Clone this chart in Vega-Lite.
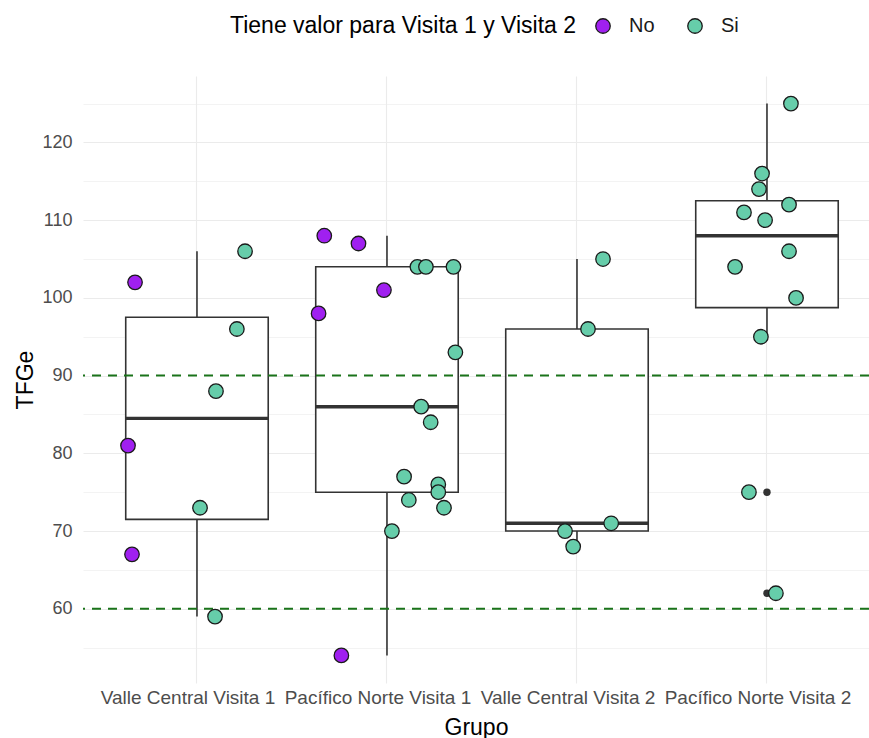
{
  "$schema": "https://vega.github.io/schema/vega-lite/v6.json",
  "autosize": {"type": "none"},
  "padding": {"left": 83, "top": 76, "right": 0, "bottom": 55},
  "width": 786,
  "height": 607,
  "background": "white",
  "config": {
    "view": {"stroke": null},
    "font": "Liberation Sans",
    "axis": {"labelFont": "Liberation Sans", "titleFont": "Liberation Sans"},
    "legend": {"labelFont": "Liberation Sans", "titleFont": "Liberation Sans"}
  },
  "datasets": {
    "puntos": [
      {"grupo": "Valle Central Visita 1", "tfge": 102, "valor": "No", "jitter": -0.326},
      {"grupo": "Valle Central Visita 1", "tfge": 106, "valor": "Si", "jitter": 0.253},
      {"grupo": "Valle Central Visita 1", "tfge": 96, "valor": "Si", "jitter": 0.21},
      {"grupo": "Valle Central Visita 1", "tfge": 88, "valor": "Si", "jitter": 0.1},
      {"grupo": "Valle Central Visita 1", "tfge": 81, "valor": "No", "jitter": -0.363},
      {"grupo": "Valle Central Visita 1", "tfge": 73, "valor": "Si", "jitter": 0.016},
      {"grupo": "Valle Central Visita 1", "tfge": 67, "valor": "No", "jitter": -0.342},
      {"grupo": "Valle Central Visita 1", "tfge": 59, "valor": "Si", "jitter": 0.095},
      {"grupo": "Pacífico Norte Visita 1", "tfge": 108, "valor": "No", "jitter": -0.33},
      {"grupo": "Pacífico Norte Visita 1", "tfge": 107, "valor": "No", "jitter": -0.15},
      {"grupo": "Pacífico Norte Visita 1", "tfge": 104, "valor": "Si", "jitter": 0.16},
      {"grupo": "Pacífico Norte Visita 1", "tfge": 104, "valor": "Si", "jitter": 0.205},
      {"grupo": "Pacífico Norte Visita 1", "tfge": 104, "valor": "Si", "jitter": 0.35},
      {"grupo": "Pacífico Norte Visita 1", "tfge": 101, "valor": "No", "jitter": -0.016},
      {"grupo": "Pacífico Norte Visita 1", "tfge": 98, "valor": "No", "jitter": -0.36},
      {"grupo": "Pacífico Norte Visita 1", "tfge": 93, "valor": "Si", "jitter": 0.36},
      {"grupo": "Pacífico Norte Visita 1", "tfge": 86, "valor": "Si", "jitter": 0.18},
      {"grupo": "Pacífico Norte Visita 1", "tfge": 84, "valor": "Si", "jitter": 0.23},
      {"grupo": "Pacífico Norte Visita 1", "tfge": 77, "valor": "Si", "jitter": 0.09},
      {"grupo": "Pacífico Norte Visita 1", "tfge": 76, "valor": "Si", "jitter": 0.27},
      {"grupo": "Pacífico Norte Visita 1", "tfge": 75, "valor": "Si", "jitter": 0.27},
      {"grupo": "Pacífico Norte Visita 1", "tfge": 74, "valor": "Si", "jitter": 0.115},
      {"grupo": "Pacífico Norte Visita 1", "tfge": 73, "valor": "Si", "jitter": 0.3},
      {"grupo": "Pacífico Norte Visita 1", "tfge": 70, "valor": "Si", "jitter": 0.026},
      {"grupo": "Pacífico Norte Visita 1", "tfge": 54, "valor": "No", "jitter": -0.24},
      {"grupo": "Valle Central Visita 2", "tfge": 105, "valor": "Si", "jitter": 0.137},
      {"grupo": "Valle Central Visita 2", "tfge": 96, "valor": "Si", "jitter": 0.058},
      {"grupo": "Valle Central Visita 2", "tfge": 71, "valor": "Si", "jitter": 0.18},
      {"grupo": "Valle Central Visita 2", "tfge": 70, "valor": "Si", "jitter": -0.063},
      {"grupo": "Valle Central Visita 2", "tfge": 68, "valor": "Si", "jitter": -0.02},
      {"grupo": "Pacífico Norte Visita 2", "tfge": 125, "valor": "Si", "jitter": 0.126},
      {"grupo": "Pacífico Norte Visita 2", "tfge": 116, "valor": "Si", "jitter": -0.026},
      {"grupo": "Pacífico Norte Visita 2", "tfge": 114, "valor": "Si", "jitter": -0.042},
      {"grupo": "Pacífico Norte Visita 2", "tfge": 112, "valor": "Si", "jitter": 0.116},
      {"grupo": "Pacífico Norte Visita 2", "tfge": 111, "valor": "Si", "jitter": -0.121},
      {"grupo": "Pacífico Norte Visita 2", "tfge": 110, "valor": "Si", "jitter": -0.01},
      {"grupo": "Pacífico Norte Visita 2", "tfge": 106, "valor": "Si", "jitter": 0.116},
      {"grupo": "Pacífico Norte Visita 2", "tfge": 104, "valor": "Si", "jitter": -0.168},
      {"grupo": "Pacífico Norte Visita 2", "tfge": 100, "valor": "Si", "jitter": 0.153},
      {"grupo": "Pacífico Norte Visita 2", "tfge": 95, "valor": "Si", "jitter": -0.032},
      {"grupo": "Pacífico Norte Visita 2", "tfge": 75, "valor": "Si", "jitter": -0.095},
      {"grupo": "Pacífico Norte Visita 2", "tfge": 62, "valor": "Si", "jitter": 0.047}
    ],
    "referencias": [{"ref": 60}, {"ref": 90}]
  },
  "layer": [
    {
      "data": {"name": "puntos"},
      "mark": {
        "type": "boxplot",
        "extent": 1.5,
        "size": 142.5,
        "color": "#333333",
        "box": {"fill": "white", "stroke": "#333333", "strokeWidth": 1.6},
        "median": {"color": "#333333", "thickness": 3.4, "opacity": 1},
        "rule": {"color": "#333333", "strokeWidth": 1.6, "opacity": 1},
        "outliers": {"color": "#333333", "filled": true, "size": 55, "opacity": 1}
      },
      "encoding": {
        "x": {
          "field": "grupo", "type": "nominal",
          "scale": {
            "domain": ["Valle Central Visita 1", "Pacífico Norte Visita 1", "Valle Central Visita 2", "Pacífico Norte Visita 2"],
            "paddingInner": 0, "paddingOuter": 0.0684, "align": 0.73
          },
          "axis": {
            "title": "Grupo", "titleFontSize": 23, "titleColor": "#000000", "titleFontWeight": "normal", "titlePadding": 9,
            "labelFontSize": 19, "labelColor": "#4D4D4D", "labelAngle": 0, "labelPadding": 5, "labelLimit": 300, "labelOffset": -9,
            "ticks": false, "tickSize": 0, "domain": false,
            "grid": true, "gridColor": "#EBEBEB", "gridWidth": 1.1, "bandPosition": 0.5
          }
        },
        "y": {
          "field": "tfge", "type": "quantitative",
          "scale": {"domain": [50.45, 128.55], "nice": false, "zero": false},
          "axis": {
            "title": "TFGe", "titleFontSize": 23, "titleColor": "#000000", "titleFontWeight": "normal", "titlePadding": 4,
            "labelFontSize": 18, "labelColor": "#4D4D4D", "labelPadding": 11,
            "values": [55, 60, 65, 70, 75, 80, 85, 90, 95, 100, 105, 110, 115, 120, 125],
            "labelExpr": "datum.value % 10 === 0 ? datum.label : ''",
            "ticks": false, "tickSize": 0, "domain": false,
            "grid": true, "gridColor": "#EBEBEB",
            "gridWidth": {"condition": {"test": "datum.value % 10 === 0", "value": 1.1}, "value": 0.6}
          }
        }
      }
    },
    {
      "data": {"name": "referencias"},
      "mark": {"type": "rule", "color": "#1A731A", "strokeWidth": 2, "strokeDash": [9, 7]},
      "encoding": {
        "y": {"field": "ref", "type": "quantitative"}
      }
    },
    {
      "data": {"name": "puntos"},
      "mark": {"type": "circle", "size": 210, "opacity": 1, "stroke": "#1A1A1A", "strokeWidth": 1.3},
      "encoding": {
        "x": {"field": "grupo", "type": "nominal"},
        "xOffset": {"field": "jitter", "type": "quantitative", "scale": {"domain": [-0.5, 0.5]}},
        "y": {"field": "tfge", "type": "quantitative"},
        "fill": {
          "field": "valor", "type": "nominal",
          "scale": {"domain": ["No", "Si"], "range": ["#A020F0", "#66CDAA"]},
          "legend": {
            "title": "Tiene valor para Visita 1 y Visita 2",
            "orient": "none", "legendX": 147, "legendY": -60,
            "direction": "horizontal", "titleOrient": "left", "titleLimit": 600,
            "titleFontSize": 23, "titleFontWeight": "normal", "titleColor": "#000000",
            "titleBaseline": "middle", "titlePadding": 16,
            "labelFontSize": 20, "labelColor": "#1A1A1A", "labelOffset": 16,
            "symbolType": "circle", "symbolSize": 210, "symbolStrokeColor": "#1A1A1A", "symbolStrokeWidth": 1.3,
            "symbolOpacity": 1, "columnPadding": 30
          }
        }
      }
    }
  ]
}
